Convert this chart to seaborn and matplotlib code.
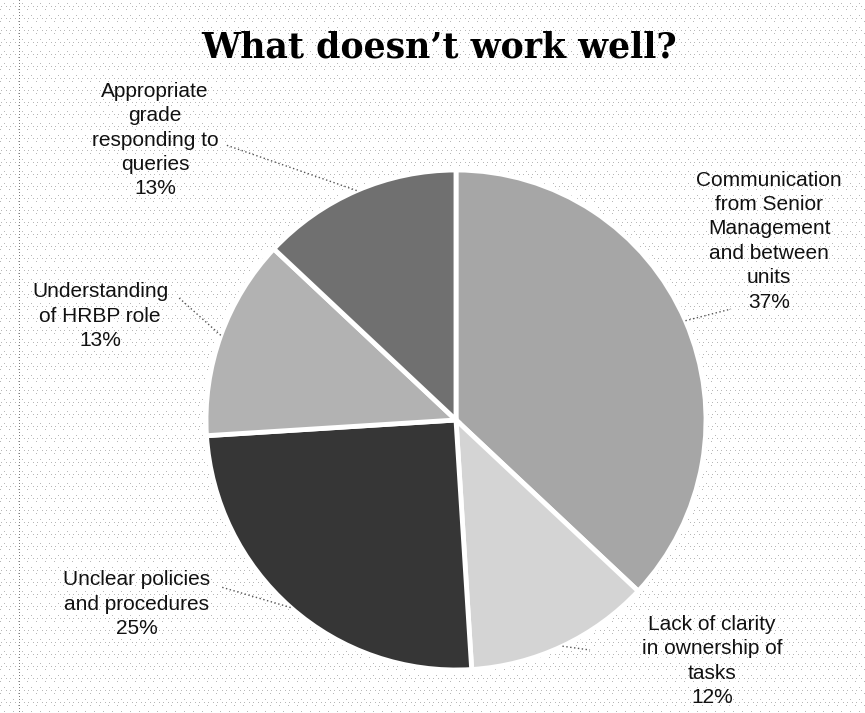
import numpy as np
import matplotlib
matplotlib.use("Agg")
import matplotlib.pyplot as plt
import seaborn as sns

# Survey answers: what doesn't work well
categories = [
    "Communication\nfrom Senior\nManagement\nand between\nunits",
    "Lack of clarity\nin ownership of\ntasks",
    "Unclear policies\nand procedures",
    "Understanding\nof HRBP role",
    "Appropriate\ngrade\nresponding to\nqueries",
]
shares = [37, 12, 25, 13, 13]
slice_colors = ["#a6a6a6", "#d4d4d4", "#363636", "#b2b2b2", "#707070"]

sns.set_theme(style="white")
plt.rcParams["font.family"] = ["Liberation Sans", "DejaVu Sans"]

W, H, DPI = 865, 713, 100
fig = plt.figure(figsize=(W / DPI, H / DPI), dpi=DPI)
fig.patch.set_facecolor("white")

# faint dotted backdrop
bg = np.ones((H, W))
yy, xx = np.mgrid[0:H, 0:W]
dots = ((yy % 12 == 3) & (xx % 9 == 4)) | ((yy % 12 == 9) & (xx % 9 == 0)) | \
       ((yy % 12 == 6) & ((xx % 9 == 1) | (xx % 9 == 6)))
bg[dots] = 0.72
bg[(xx == 19) & (yy % 3 == 0)] = 0.5
fig.figimage(np.dstack([bg, bg, bg]), xo=0, yo=0, origin="upper", zorder=-5)

ax = fig.add_axes([0, 0, 1, 1])
ax.set_zorder(2)
ax.patch.set_alpha(0)

cx, cy, R = 456, 420, 250  # pixel centre and radius of the pie
wedges, _ = ax.pie(
    shares,
    colors=slice_colors,
    startangle=90,
    counterclock=False,
    radius=1,
    wedgeprops=dict(edgecolor="white", linewidth=3.5),
)
ax.set_xlim(-cx / R, (W - cx) / R)
ax.set_ylim(-(H - cy) / R, cy / R)
ax.set_aspect("auto")
ax.axis("off")

def px(x, y):
    return ((x - cx) / R, (cy - y) / R)

label_pos = [px(769, 241), px(712, 661), px(137, 604), px(100, 316), px(155, 140)]
leader_end = [px(731, 309), px(590, 650), px(221, 587), px(178, 297), px(226, 145)]

for w, lab, v, pos, end in zip(wedges, categories, shares, label_pos, leader_end):
    mid = np.deg2rad((w.theta1 + w.theta2) / 2)
    edge = (np.cos(mid), np.sin(mid))
    ax.plot([edge[0], end[0]], [edge[1], end[1]], color="#555555",
            lw=1.0, ls=(0, (1, 1.8)), zorder=1)
    ax.text(pos[0], pos[1], f"{lab}\n{v}%", ha="center", va="center",
            fontsize=15, color="#111111", linespacing=1.36, zorder=3)

fig.text(439 / W, 1 - 57 / H, "What doesn\u2019t work well?", ha="center",
         va="baseline", fontsize=25, fontweight="bold",
         family=["DejaVu Serif"], color="black", zorder=3)

fig.savefig("out.png", dpi=DPI)
